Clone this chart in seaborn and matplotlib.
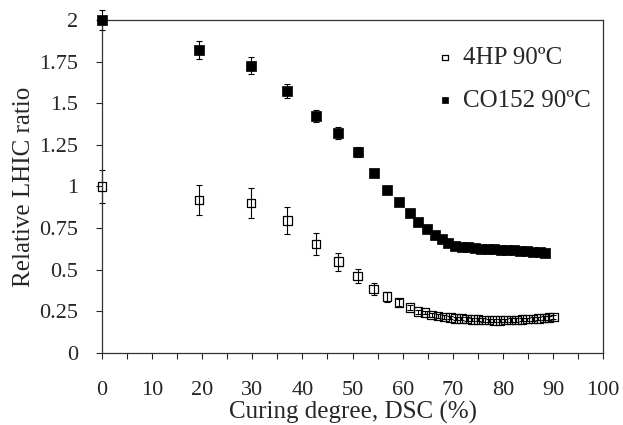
import matplotlib
matplotlib.use("Agg")
import matplotlib.pyplot as plt
from matplotlib.ticker import MultipleLocator, FixedLocator
import seaborn as sns
import pandas as pd

# 4HP 90ºC (open squares)
hp_x = [0, 19.4, 29.7, 37, 42.7, 47.2, 51, 54.2, 56.9, 59.3, 61.5, 63.1, 64.5, 65.8,
        67.1, 68.3, 69.5, 70.6, 71.7, 72.8, 73.9, 75.0, 76.1, 77.2, 78.3, 79.4, 80.5,
        81.6, 82.7, 83.8, 84.9, 86.0, 87.1, 88.2, 89.2, 90.1]
hp_y = [1.0, 0.92, 0.90, 0.795, 0.655, 0.548, 0.462, 0.384, 0.338, 0.304, 0.274, 0.248,
        0.244, 0.228, 0.222, 0.216, 0.212, 0.208, 0.206, 0.204, 0.202, 0.200, 0.198,
        0.197, 0.196, 0.196, 0.197, 0.198, 0.199, 0.201, 0.203, 0.205, 0.207, 0.209,
        0.212, 0.216]
hp_err = [0.1, 0.09, 0.09, 0.08, 0.065, 0.055, 0.044, 0.035, 0.03, 0.02, 0.015, 0.012,
          0.01, 0.01, 0.01, 0.01, 0.01, 0.01, 0.01, 0.01, 0.01, 0.01, 0.01, 0.01, 0.01,
          0.01, 0.01, 0.01, 0.01, 0.01, 0.01, 0.01, 0.01, 0.012, 0.012, 0.012]

# CO152 90ºC (filled squares)
co_x = [0, 19.4, 29.7, 37, 42.7, 47.2, 51, 54.2, 56.9, 59.3, 61.4, 63.1, 64.8, 66.5,
        67.8, 69.1, 70.5, 71.8, 73.1, 74.4, 75.7, 77.0, 78.3, 79.6, 80.9, 82.2, 83.5,
        84.8, 86.1, 87.4, 88.5]
co_y = [2.0, 1.82, 1.725, 1.574, 1.425, 1.32, 1.205, 1.08, 0.98, 0.907, 0.838, 0.785,
        0.742, 0.709, 0.683, 0.659, 0.643, 0.638, 0.634, 0.628, 0.622, 0.625, 0.623,
        0.62, 0.618, 0.616, 0.612, 0.61, 0.607, 0.604, 0.60]
co_err = [0.06, 0.055, 0.05, 0.04, 0.035, 0.035, 0.03, 0.025, 0.015, 0.01, 0.01, 0.01,
          0.01, 0.01, 0.01, 0.01, 0.01, 0.01, 0.01, 0.01, 0.01, 0.01, 0.01, 0.01, 0.01,
          0.01, 0.01, 0.01, 0.01, 0.01, 0.01]

x_ticks = [0, 10, 20, 30, 40, 50, 60, 70, 80, 90, 100]
y_ticks = [0, 0.25, 0.5, 0.75, 1, 1.25, 1.5, 1.75, 2]
y_labels = ["0", "0.25", "0.5", "0.75", "1", "1.25", "1.5", "1.75", "2"]

hp = pd.DataFrame({"x": hp_x, "y": hp_y, "err": hp_err})
co = pd.DataFrame({"x": co_x, "y": co_y, "err": co_err})

sns.set_style("ticks")
plt.rcParams["font.family"] = ["Liberation Serif", "DejaVu Serif"]

fig = plt.figure(figsize=(6.23, 4.25), dpi=100)
ax = fig.add_axes([0.1637, 0.1694, 0.8043, 0.7836])

# error bars first, markers on top
for d in (hp, co):
    eb = ax.errorbar(d["x"], d["y"], yerr=d["err"], fmt="none", ecolor="black",
                     elinewidth=0.8, capsize=2.5, capthick=0.8, zorder=2)
    for artist in eb.lines[1] + eb.lines[2]:
        artist.set_clip_on(False)

sns.scatterplot(data=hp, x="x", y="y", marker="s", s=38, facecolor="none",
                edgecolor="black", linewidth=0.9, label="4HP 90ºC", ax=ax,
                zorder=3, clip_on=False)
sns.scatterplot(data=co, x="x", y="y", marker="s", s=60, color="black",
                edgecolor="black", linewidth=0.5, label="CO152 90ºC", ax=ax,
                zorder=3, clip_on=False)

ax.set_xlim(0, 100)
ax.set_ylim(0, 2)
ax.xaxis.set_major_locator(FixedLocator(x_ticks))
ax.xaxis.set_minor_locator(MultipleLocator(5))
ax.yaxis.set_major_locator(FixedLocator(y_ticks))
ax.set_yticklabels(y_labels)

ax.tick_params(axis="x", which="both", direction="out", length=4, width=0.8,
               labelsize=16, pad=16)
ax.tick_params(axis="y", which="both", direction="out", length=4, width=0.8,
               labelsize=16, pad=13)

for side in ["left", "bottom", "top", "right"]:
    ax.spines[side].set_visible(True)
    ax.spines[side].set_linewidth(0.9)
    ax.spines[side].set_color("#333333")

ax.set_xlabel("Curing degree, DSC (%)", fontsize=18, labelpad=1)
ax.set_ylabel("Relative LHIC ratio", fontsize=18, labelpad=3)

ax.legend(loc="upper left", frameon=False, fontsize=18, markerscale=0.65,
          handlelength=0.4, handletextpad=0.5, labelspacing=0.8,
          borderaxespad=0, bbox_to_anchor=(0.655, 0.95))

fig.savefig("out.png", dpi=100)
